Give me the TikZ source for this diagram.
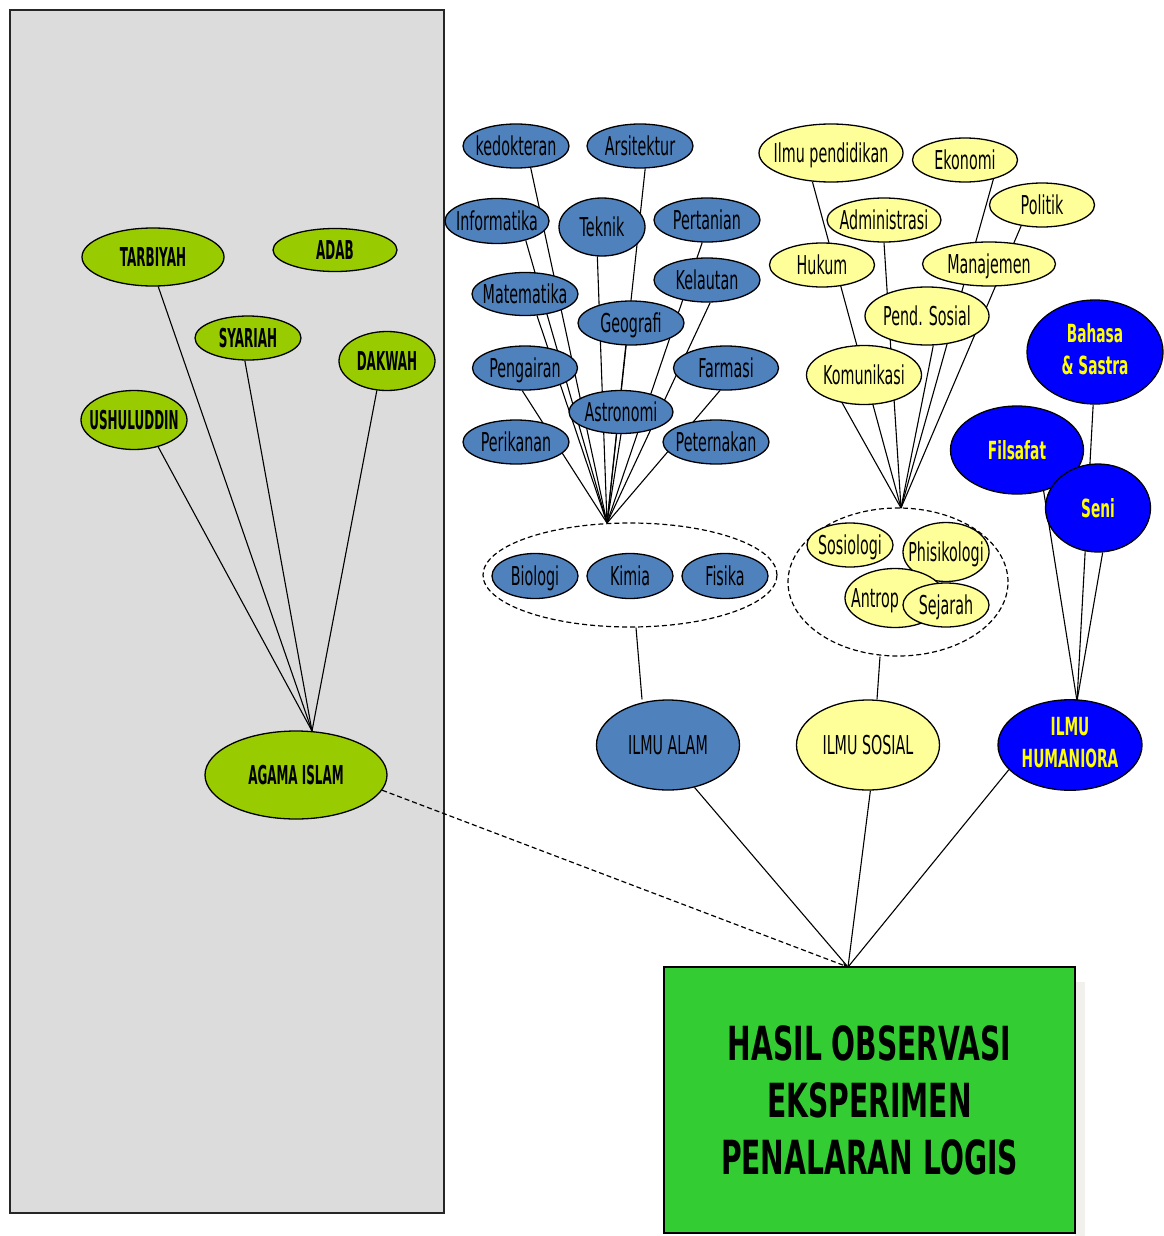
\documentclass[tikz,border=0pt]{standalone}
\usepackage{fontspec}
\setmainfont[FakeStretch=0.55]{DejaVu Sans}
\newfontfamily\greenfont[FakeStretch=0.46]{DejaVu Sans}
\newfontfamily\boxfont[FakeStretch=0.6]{DejaVu Sans}
\usetikzlibrary{shapes.geometric,arrows.meta}
\definecolor{panelGrey}{HTML}{DCDCDC}
\definecolor{islamGreen}{HTML}{99CC00}
\definecolor{alamBlue}{HTML}{4F81BD}
\definecolor{sosialYellow}{HTML}{FFFF99}
\definecolor{humBlue}{HTML}{0000FF}
\definecolor{humText}{HTML}{FFFF00}
\definecolor{boxGreen}{HTML}{33CC33}
\definecolor{shadowGrey}{HTML}{F2F0EC}
\pgfdeclarelayer{panel}
\pgfdeclarelayer{links}
\pgfsetlayers{panel,links,main}
\newcommand{\lbl}[1]{\makebox[0pt]{\raisebox{0pt}[0.76em][0pt]{#1}}}
\newcommand{\lblii}[2]{\makebox[0pt]{\begin{tabular}{@{}c@{}}#1\\#2\end{tabular}}}
\begin{document}
\begin{tikzpicture}[x=1pt,y=-1pt,
    bubble/.style={ellipse,draw=black,line width=1.3pt,inner sep=0pt,
      font=\fontsize{26}{32}\selectfont},
    blueNode/.style={bubble,fill=alamBlue,minimum width=106,minimum height=44},
    yellowNode/.style={bubble,fill=sosialYellow,minimum width=106,minimum height=44},
    humNode/.style={bubble,fill=humBlue,text=humText,
      font=\fontsize{25}{32}\selectfont\bfseries},
    greenNode/.style={bubble,fill=islamGreen,
      font=\greenfont\fontsize{26}{30}\selectfont\bfseries},
    groupRing/.style={ellipse,draw=black,line width=1.2pt,
      dash pattern=on 5pt off 3pt,inner sep=0pt},
    link/.style={line width=1.1pt}]
    \useasboundingbox (0,0) rectangle (1163,1236);

    \begin{pgfonlayer}{panel}
        \draw[fill=panelGrey,draw=black!85,line width=1.5pt] (10,10) rectangle (444,1213);
    \end{pgfonlayer}

    % agama islam
    \node[greenNode,minimum width=142,minimum height=58] (tarbiyah) at (153,257) {\lbl{TARBIYAH}};
    \node[greenNode,minimum width=124,minimum height=43] (adab) at (335,250) {\lbl{ADAB}};
    \node[greenNode,minimum width=106,minimum height=44] (syariah) at (248,338) {\lbl{SYARIAH}};
    \node[greenNode,minimum width=96,minimum height=59] (dakwah) at (387,361) {\lbl{DAKWAH}};
    \node[greenNode,minimum width=106,minimum height=59] (ushuluddin) at (134,420) {\lbl{USHULUDDIN}};
    \node[greenNode,minimum width=182,minimum height=88] (agama) at (296,775) {\lbl{AGAMA ISLAM}};

    % ilmu alam
    \node[groupRing,minimum width=294,minimum height=104] (alamGroup) at (630,575) {};
    \node[blueNode] (kedokteran) at (516,146) {\lbl{kedokteran}};
    \node[blueNode] (arsitektur) at (640,146) {\lbl{Arsitektur}};
    \node[blueNode,minimum width=104,minimum height=45] (informatika) at (497,221) {\lbl{Informatika}};
    \node[blueNode,minimum width=86,minimum height=58] (teknik) at (602,227) {\lbl{Teknik}};
    \node[blueNode] (pertanian) at (707,220) {\lbl{Pertanian}};
    \node[blueNode,minimum height=43] (matematika) at (525,294) {\lbl{Matematika}};
    \node[blueNode] (kelautan) at (707,280) {\lbl{Kelautan}};
    \node[blueNode] (geografi) at (631,323) {\lbl{Geografi}};
    \node[blueNode,minimum width=105] (pengairan) at (525,368) {\lbl{Pengairan}};
    \node[blueNode,minimum width=105] (farmasi) at (726,368) {\lbl{Farmasi}};
    \node[blueNode,minimum width=104,minimum height=43] (astronomi) at (621,412) {\lbl{Astronomi}};
    \node[blueNode] (perikanan) at (516,442) {\lbl{Perikanan}};
    \node[blueNode] (peternakan) at (716,442) {\lbl{Peternakan}};
    \node[blueNode,minimum width=86,minimum height=45] (biologi) at (535,576) {\lbl{Biologi}};
    \node[blueNode,minimum width=86,minimum height=45] (kimia) at (630,576) {\lbl{Kimia}};
    \node[blueNode,minimum width=86,minimum height=45] (fisika) at (725,576) {\lbl{Fisika}};
    \node[blueNode,minimum width=143,minimum height=90] (ilmuAlam) at (668,745) {\lbl{ILMU ALAM}};

    % ilmu sosial
    \node[groupRing,minimum width=220,minimum height=148] (sosialGroup) at (898,582) {};
    \node[yellowNode,minimum width=144,minimum height=58] (ilmuPend) at (831,153) {\lbl{Ilmu pendidikan}};
    \node[yellowNode,minimum width=105] (ekonomi) at (965,160) {\lbl{Ekonomi}};
    \node[yellowNode,minimum width=114] (administrasi) at (884,220) {\lbl{Administrasi}};
    \node[yellowNode,minimum width=105] (politik) at (1042,205) {\lbl{Politik}};
    \node[yellowNode,minimum width=105] (hukum) at (822,265) {\lbl{Hukum}};
    \node[yellowNode,minimum width=133] (manajemen) at (989,264) {\lbl{Manajemen}};
    \node[yellowNode,minimum width=124,minimum height=58] (pendSosial) at (927,316) {\lbl{Pend. Sosial}};
    \node[yellowNode,minimum width=115,minimum height=59] (komunikasi) at (864,375) {\lbl{Komunikasi}};
    \node[yellowNode,minimum width=86] (sosiologi) at (850,545) {\lbl{Sosiologi}};
    \node[yellowNode,minimum width=86,minimum height=59] (phisikologi) at (946,552) {\lbl{Phisikologi}};
    \node[yellowNode,minimum width=100,minimum height=59] (antropologi) at (895,598)
      {\makebox[0pt][l]{\hspace{-44pt}\raisebox{0pt}[0.76em][0pt]{Antrop}}};
    \node[yellowNode,minimum width=86] (sejarah) at (946,605) {\lbl{Sejarah}};
    \node[yellowNode,minimum width=143,minimum height=90] (ilmuSosial) at (868,745) {\lbl{ILMU SOSIAL}};

    % ilmu humaniora
    \node[humNode,minimum width=136,minimum height=104] (bahasa) at (1095,352) {\lblii{Bahasa}{\& Sastra}};
    \node[humNode,minimum width=133,minimum height=88] (filsafat) at (1017,450) {\lbl{Filsafat}};
    \node[humNode,minimum width=105,minimum height=88] (seni) at (1098,508) {\lbl{Seni}};
    \node[humNode,minimum width=144,minimum height=90] (humaniora) at (1070,745) {\lblii{ILMU}{HUMANIORA}};

    % hasil
    \fill[shadowGrey] (1075,982) rectangle (1085,1236);
    \node[draw=black,line width=1.3pt,fill=boxGreen,minimum width=411,minimum height=266,
      inner sep=0pt,align=center,font=\boxfont\fontsize{47}{57}\selectfont\bfseries]
      (hasil) at (869.5,1100) {HASIL OBSERVASI\\EKSPERIMEN\\PENALARAN LOGIS};

    \coordinate (agamaTop) at (312,731);
    \coordinate (alamTop) at (607,523);
    \coordinate (sosialTop) at (901,508);
    \coordinate (humTop) at (1077,701);
    \coordinate (boxTop) at (848,967);

    \begin{pgfonlayer}{links}
        \draw[link] (tarbiyah.280) to (agamaTop); \draw[link] (syariah.262) to (agamaTop);
        \draw[link] (dakwah.251) to (agamaTop); \draw[link] (ushuluddin.312) to (agamaTop);

        \draw[link] (kedokteran.304) to (alamTop); \draw[link] (arsitektur.283) to (alamTop);
        \draw[link] (informatika.326) to (alamTop); \draw[link] (teknik.261) to (alamTop);
        \draw[link] (pertanian.258) to (alamTop); \draw[link] (kelautan.278) to (alamTop);
        \draw[link] (matematika.299) to (alamTop); \draw[link] (geografi.257) to (alamTop);
        \draw[link] (pengairan.263) to (alamTop); \draw[link] (farmasi.255) to (alamTop);
        \draw[link] (astronomi.270) to (alamTop);

        \draw[link] (ilmuPend.237) to (sosialTop); \draw[link] (ekonomi.326) to (sosialTop);
        \draw[link] (politik.225) to (sosialTop); \draw[link] (administrasi.270) to (sosialTop);
        \draw[link] (pendSosial.282) to (sosialTop); \draw[link] (komunikasi.232) to (sosialTop);

        \draw[link] (bahasa.268) to (humTop); \draw[link] (filsafat.303) to (humTop);
        \draw[link] (seni.276) to (humTop);

        \draw[link] ([xshift=6pt]alamGroup.south) to ([xshift=-26pt]ilmuAlam.north);
        \draw[link] ([xshift=-18pt]sosialGroup.south) to ([xshift=9pt]ilmuSosial.north);

        \draw[link] (ilmuAlam.302) to (boxTop); \draw[link] (ilmuSosial.273) to (boxTop);
        \draw[link] (humaniora.202) to (boxTop);
        \draw[link,line width=1.2pt,dash pattern=on 5pt off 3pt,-{Stealth[length=6pt,width=5pt]}]
          (agama.350) to (boxTop);
    \end{pgfonlayer}
\end{tikzpicture}
\end{document}
